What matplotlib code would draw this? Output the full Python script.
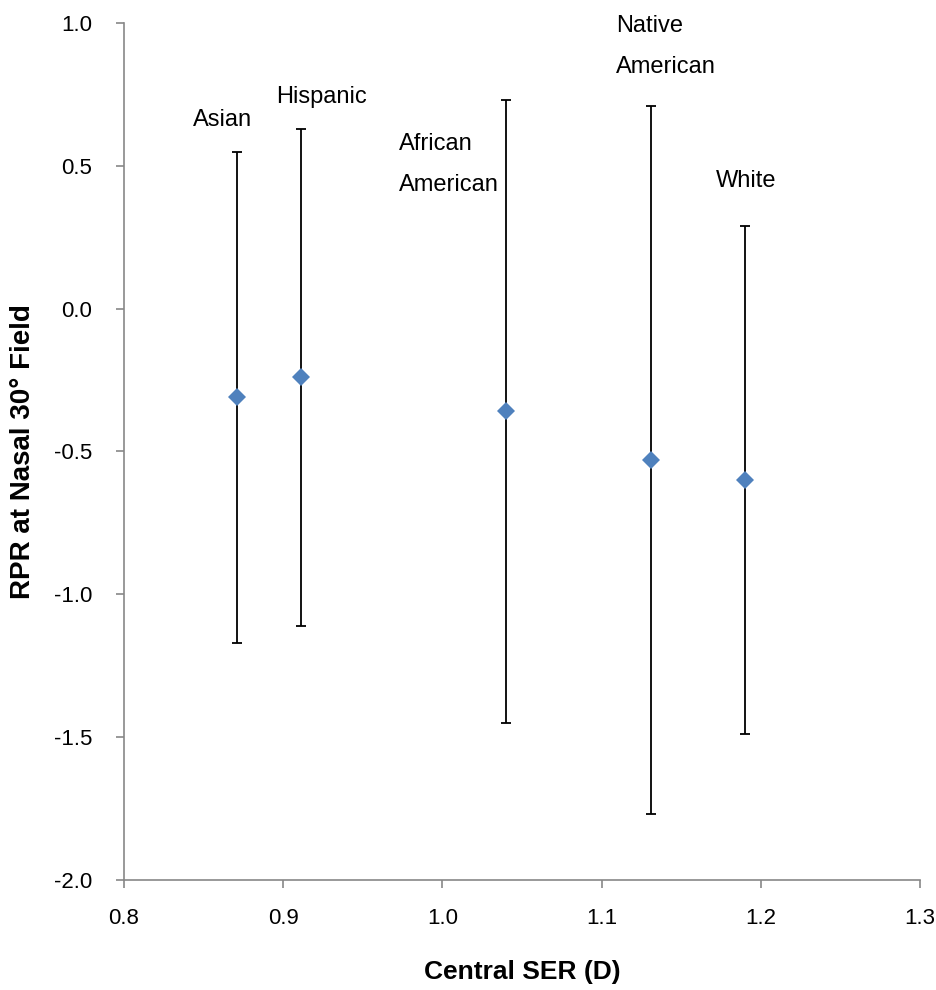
import matplotlib.pyplot as plt
import numpy as np

plt.rcParams['font.family'] = ['Liberation Sans', 'DejaVu Sans']

# Data
groups = ['Asian', 'Hispanic', 'African\nAmerican', 'Native\nAmerican', 'White']
ser = [0.871, 0.911, 1.040, 1.131, 1.190]
rpr = [-0.31, -0.24, -0.36, -0.53, -0.60]
upper = [0.55, 0.63, 0.73, 0.71, 0.29]
lower = [-1.17, -1.11, -1.45, -1.77, -1.49]

# Label placement (data coords)
label_x = [0.862, 0.924, 0.973, 1.109, 1.191]
label_y = [0.66, 0.74, 0.505, 0.918, 0.447]
label_ha = ['center', 'center', 'left', 'left', 'center']

ser = np.array(ser)
rpr = np.array(rpr)
yerr = [rpr - np.array(lower), np.array(upper) - rpr]

fig = plt.figure(figsize=(9.37, 9.9), dpi=100)
ax = fig.add_axes([0.1323, 0.1111, 0.8495, 0.8657])

# Error bars first, then diamond markers on top
ax.errorbar(ser, rpr, yerr=yerr, fmt='none', ecolor='black', elinewidth=1.3,
            capsize=3.3, capthick=1.3, zorder=2)
ax.plot(ser, rpr, 'D', color='#4F81BD', markersize=9, markeredgewidth=0, zorder=3)

for name, x, y, ha in zip(groups, label_x, label_y, label_ha):
    ax.text(x, y, name, ha=ha, va='center', fontsize=17, linespacing=2.15)

ax.set_xlim(0.8, 1.3)
ax.set_ylim(-2.0, 1.0)
xt = np.arange(0.8, 1.31, 0.1)
yt = np.arange(-2.0, 1.01, 0.5)
ax.set_xticks(xt)
ax.set_yticks(yt)
ax.set_xticklabels(['%.1f' % v for v in xt])
ax.set_yticklabels(['%.1f' % v for v in yt])

#Axis styling like the original
for s in ['top', 'right']:
    ax.spines[s].set_visible(False)
for s in ['left', 'bottom']:
    ax.spines[s].set_color('#878787')
    ax.spines[s].set_linewidth(1.2)
ax.tick_params(direction='out', length=6, width=1.2, color='#878787',
               labelsize=16)
ax.tick_params(axis='y', pad=17)
ax.tick_params(axis='x', pad=14)

ax.set_xlabel('Central SER (D)', fontsize=19, fontweight='bold')
ax.set_ylabel('RPR at Nasal 30° Field', fontsize=20, fontweight='bold')
ax.xaxis.set_label_coords(0.5, -0.1073)
ax.xaxis.label.set_verticalalignment('center')
ax.yaxis.set_label_coords(-0.127, 0.5)
ax.yaxis.label.set_verticalalignment('center')

plt.savefig('out.png', dpi=100)
